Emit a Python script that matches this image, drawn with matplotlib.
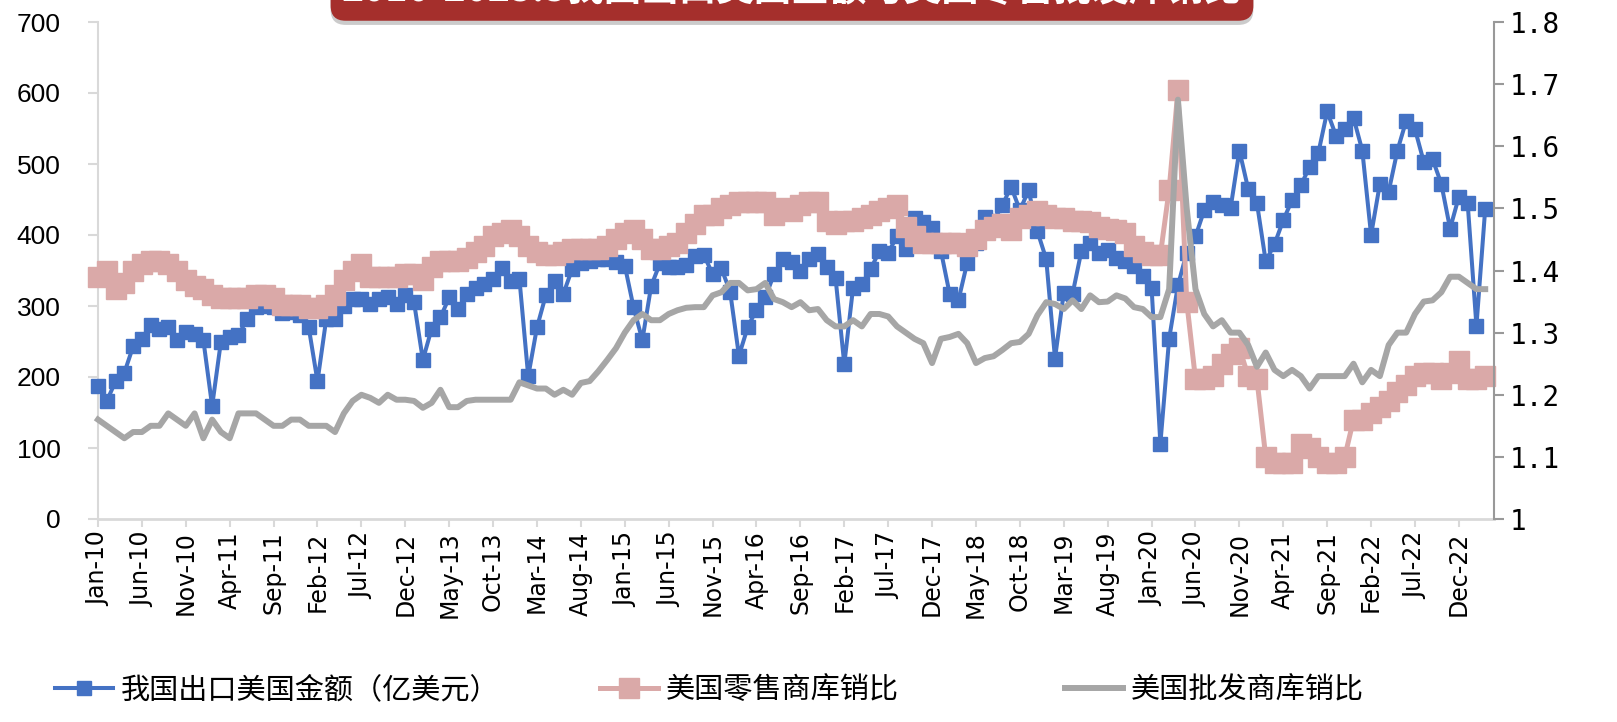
import matplotlib
matplotlib.use("Agg")
import matplotlib.pyplot as plt
import matplotlib.patheffects as pe
import pandas as pd
from matplotlib.lines import Line2D

# monthly categories Jan-10 .. Mar-23
months = pd.date_range("2010-01-01", periods=159, freq="MS").strftime("%b-%y").tolist()

# 我国出口美国金额（亿美元）
export_us = [
    188, 166, 194, 206, 243, 254, 273, 268, 270, 252, 264, 261,
    252, 159, 250, 257, 259, 282, 298, 300, 298, 290, 292, 288,
    270, 194, 282, 282, 300, 310, 310, 303, 310, 312, 303, 315,
    305, 224, 268, 284, 312, 296, 317, 326, 331, 338, 354, 335,
    338, 201, 270, 315, 335, 317, 352, 361, 364, 366, 366, 362,
    357, 298, 252, 328, 360, 355, 355, 358, 370, 372, 345, 353,
    320, 230, 270, 295, 312, 345, 366, 362, 350, 366, 373, 355,
    340, 218, 326, 331, 352, 377, 375, 398, 380, 424, 419, 410,
    378, 317, 308, 361, 389, 426, 420, 442, 468, 435, 463, 405,
    366, 226, 319, 317, 377, 389, 375, 379, 368, 363, 356, 342,
    326, 106, 254, 329, 375, 398, 435, 447, 442, 438, 519, 465,
    445, 363, 387, 421, 449, 470, 496, 516, 574, 540, 549, 565,
    519, 400, 472, 461, 519, 561, 549, 503, 507, 472, 409, 454,
    445, 272, 437,
]

# 美国零售商库销比
retail_ratio = [
    1.39, 1.40, 1.37, 1.38, 1.40, 1.41, 1.415, 1.415, 1.41, 1.40, 1.385, 1.375,
    1.37, 1.36, 1.355, 1.355, 1.355, 1.355, 1.36, 1.36, 1.355, 1.345, 1.345, 1.345,
    1.34, 1.34, 1.345, 1.36, 1.385, 1.40, 1.41, 1.39, 1.39, 1.39, 1.39, 1.395,
    1.395, 1.385, 1.405, 1.415, 1.415, 1.415, 1.42, 1.43, 1.44, 1.455, 1.46, 1.465,
    1.455, 1.44, 1.43, 1.425, 1.425, 1.43, 1.435, 1.435, 1.435, 1.435, 1.44, 1.45,
    1.46, 1.465, 1.45, 1.435, 1.435, 1.44, 1.445, 1.46, 1.475, 1.49, 1.49, 1.50,
    1.505, 1.51, 1.51, 1.51, 1.51, 1.49, 1.50, 1.495, 1.505, 1.51, 1.51, 1.48,
    1.475, 1.48, 1.48, 1.485, 1.49, 1.495, 1.50, 1.505, 1.47, 1.455, 1.445, 1.445,
    1.445, 1.445, 1.445, 1.44, 1.45, 1.465, 1.47, 1.475, 1.465, 1.485, 1.49, 1.495,
    1.49, 1.485, 1.485, 1.48, 1.48, 1.478, 1.47, 1.466, 1.465, 1.46, 1.44, 1.43,
    1.425, 1.425, 1.53, 1.69, 1.35, 1.225, 1.225, 1.23, 1.25, 1.265, 1.275, 1.23,
    1.225, 1.10, 1.09, 1.09, 1.09, 1.12, 1.115, 1.10, 1.09, 1.09, 1.10, 1.16,
    1.16, 1.17, 1.18, 1.19, 1.205, 1.215, 1.23, 1.235, 1.235, 1.225, 1.235, 1.255,
    1.225, 1.225, 1.23,
]

# 美国批发商库销比
wholesale_ratio = [
    1.16, 1.15, 1.14, 1.13, 1.14, 1.14, 1.15, 1.15, 1.17, 1.16, 1.15, 1.17,
    1.13, 1.16, 1.14, 1.13, 1.17, 1.17, 1.17, 1.16, 1.15, 1.15, 1.16, 1.16,
    1.15, 1.15, 1.15, 1.14, 1.17, 1.19, 1.20, 1.195, 1.187, 1.20, 1.192, 1.192,
    1.19, 1.179, 1.187, 1.208, 1.18, 1.18, 1.19, 1.192, 1.192, 1.192, 1.192, 1.192,
    1.22, 1.215, 1.21, 1.21, 1.20, 1.208, 1.20, 1.219, 1.222, 1.238, 1.256, 1.275,
    1.30, 1.32, 1.33, 1.32, 1.32, 1.33, 1.336, 1.34, 1.341, 1.341, 1.36, 1.365,
    1.38, 1.38, 1.368, 1.37, 1.38, 1.354, 1.349, 1.341, 1.349, 1.336, 1.338, 1.32,
    1.31, 1.31, 1.32, 1.31, 1.33, 1.33, 1.326, 1.31, 1.30, 1.29, 1.283, 1.251,
    1.29, 1.293, 1.298, 1.283, 1.251, 1.259, 1.262, 1.272, 1.283, 1.285, 1.298, 1.328,
    1.349, 1.346, 1.338, 1.352, 1.338, 1.36, 1.349, 1.35, 1.36, 1.355, 1.341, 1.338,
    1.325, 1.325, 1.37, 1.675, 1.50, 1.37, 1.33, 1.31, 1.32, 1.30, 1.30, 1.28,
    1.245, 1.268, 1.24, 1.23, 1.24, 1.23, 1.21, 1.23, 1.23, 1.23, 1.23, 1.25,
    1.22, 1.24, 1.23, 1.28, 1.30, 1.30, 1.33, 1.35, 1.352, 1.365, 1.39, 1.39,
    1.38, 1.37, 1.37,
]

left_ticks = [0, 100, 200, 300, 400, 500, 600, 700]
right_ticks = [1.0, 1.1, 1.2, 1.3, 1.4, 1.5, 1.6, 1.7, 1.8]
right_labels = ["1", "1.1", "1.2", "1.3", "1.4", "1.5", "1.6", "1.7", "1.8"]
names = ["我国出口美国金额（亿美元）", "美国零售商库销比", "美国批发商库销比"]
title = "2010-2023.3我国出口美国金额与美国零售批发库销比"

BLUE = "#4472C4"
PINK = "#DAA9A8"
GRAY = "#A6A6A6"
LIGHT = "#D9D9D9"

plt.rcParams["font.family"] = ["Liberation Sans", "Noto Sans CJK SC"]

W, H = 1617, 722
fig = plt.figure(figsize=(W / 100, H / 100), dpi=100)
ax = fig.add_axes([98 / W, 1 - 519 / H, (1494 - 98) / W, (519 - 22) / H])
ax2 = ax.twinx()

x = list(range(len(months)))
ax.plot(x, export_us, color=BLUE, lw=2.9, marker="s", ms=10, clip_on=False, zorder=3)
ax2.plot(x, retail_ratio, color=PINK, lw=3.6, marker="s", ms=15, clip_on=False, zorder=2)
ax2.plot(x, wholesale_ratio, color=GRAY, lw=4.3, clip_on=False, zorder=3)

ax.set_xlim(0, 159)
ax.set_ylim(0, 700)
ax2.set_ylim(1, 1.8)

ax.set_xticks(x[::5])
ax.set_xticklabels(months[::5], rotation=90, fontsize=17, family="DejaVu Sans")
ax.set_yticks(left_ticks)
ax.set_yticklabels([str(v) for v in left_ticks], fontsize=19)
ax2.set_yticks(right_ticks)
ax2.set_yticklabels(right_labels, fontsize=20, family="DejaVu Sans Mono")

ax.tick_params(axis="x", length=6, width=1.5, color=LIGHT, pad=3)
ax.tick_params(axis="y", length=7, width=1.5, color=LIGHT, pad=20)
ax2.tick_params(axis="y", length=7, width=1.5, color="#999999", pad=4)

for s in ["top", "right"]:
    ax.spines[s].set_visible(False)
for s in ["top", "left", "bottom"]:
    ax2.spines[s].set_visible(False)
ax.spines["left"].set_color(LIGHT)
ax.spines["left"].set_linewidth(1.5)
ax.spines["bottom"].set_color(LIGHT)
ax.spines["bottom"].set_linewidth(2)
ax2.spines["right"].set_color("#999999")
ax2.spines["right"].set_linewidth(1.5)

# title banner, cut off at the top edge like the source
t = fig.text(792 / W, 1 + 10 / H, title, ha="center", va="center", fontsize=27,
             weight="bold", color="white", family="Noto Sans CJK SC",
             bbox=dict(boxstyle="round,pad=0.3,rounding_size=0.4", fc="#A52F2C", ec="none"))
t.get_bbox_patch().set_path_effects([
    pe.SimplePatchShadow(offset=(0, -3), shadow_rgbFace="#999999", alpha=0.5),
    pe.Normal(),
])

# legend entries along the bottom
handles = [
    Line2D([0], [0], color=BLUE, lw=2.9, marker="s", ms=10),
    Line2D([0], [0], color=PINK, lw=3.6, marker="s", ms=15),
    Line2D([0], [0], color=GRAY, lw=4.3),
]
starts = [55, 600, 1065]
for h, name, sx in zip(handles, names, starts):
    fig.legend(handles=[h], labels=[name], loc="center left",
               bbox_to_anchor=(sx / W, 1 - 690 / H), frameon=False,
               prop={"family": "Noto Sans CJK SC", "size": 21},
               handlelength=2.0, handletextpad=0.25, borderpad=0, borderaxespad=0)

fig.savefig("out.png", dpi=100)
